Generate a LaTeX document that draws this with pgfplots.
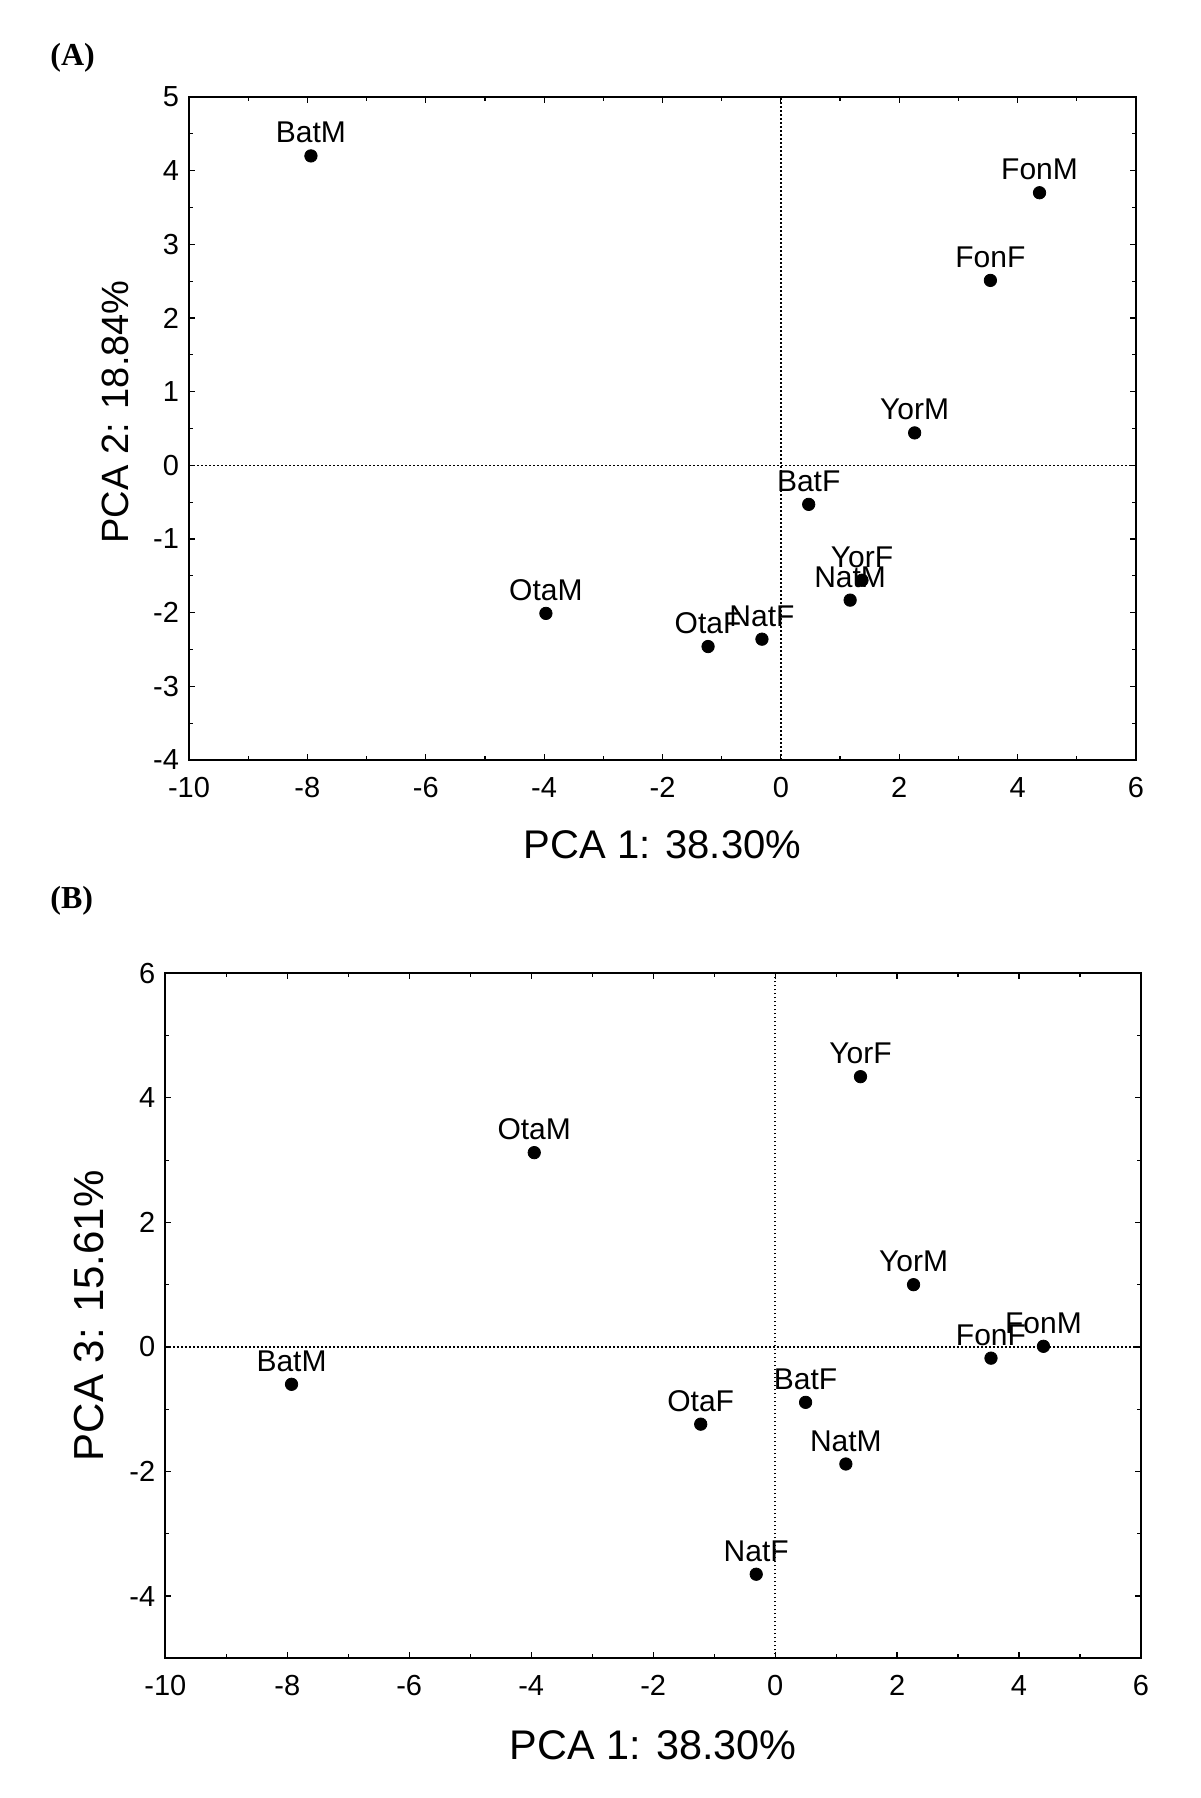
\documentclass[border=0pt]{standalone}
\usepackage{fontspec}
\setmainfont{Liberation Sans}
\newfontfamily\timesfont{Liberation Serif}
\usepackage{pgfplots}
\pgfplotsset{compat=1.18}

\pgfplotsset{
  pca/.style={
    scale only axis, anchor=south west, clip=false,
    axis line style={line width=1pt},
    tick style={black, line width=0.6pt},
    major tick length=3pt, minor tick length=2pt,
    tick align=inside,
    xmin=-10, xmax=6,
    xtick={-10,-8,...,6}, xticklabels={-10,-8,-6,-4,-2,0,2,4,6},
    minor x tick num=1,
    tick label style={font=\fontsize{14.5}{16}\selectfont},
    xticklabel style={yshift=-5pt},
    yticklabel style={xshift=-1.5pt},
  },
  pts/.style={only marks, mark=*, mark size=3.1pt, black,
    nodes near coords, point meta=explicit symbolic,
    every node near coord/.append style={anchor=base, yshift=6.5pt, inner sep=0pt,
      font=\fontsize{15}{17}\selectfont, text=black}},
  zero/.style={black, line width=0.8pt, dash pattern=on 0.8pt off 1.2pt},
}

\begin{document}
\begin{tikzpicture}
\useasboundingbox (0,0) rectangle (600pt,899pt);

\node[anchor=base west, inner sep=0pt] at (25pt,866pt) {\timesfont\bfseries\fontsize{16}{19}\selectfont (A)};
\node[anchor=base west, inner sep=0pt] at (25pt,444.5pt) {\timesfont\bfseries\fontsize{16}{19}\selectfont (B)};

% panel A: PCA 1 vs PCA 2
\begin{axis}[pca,
  at={(94.5pt,519pt)}, width=473.5pt, height=331.5pt,
  ymin=-4, ymax=5,
  ytick={-4,...,5}, yticklabels={-4,-3,-2,-1,0,1,2,3,4,5},
  minor y tick num=1,
  xlabel={PCA 1: 38.30\%},
  xlabel style={at={(axis description cs:0.5,0)}, anchor=base, yshift=-49.5pt,
    font=\fontsize{20}{24}\selectfont},
  ylabel={PCA 2: 18.84\%},
  ylabel style={at={(axis description cs:-0.0644,0.525)}, anchor=base,
    font=\fontsize{19}{23}\selectfont},
]
\addplot[zero] coordinates {(0,-4) (0,5)};
\addplot[zero] coordinates {(-10,0) (6,0)};
\addplot[pts] table[meta=lab] {
x y lab
-7.94 4.20 BatM
4.37 3.70 FonM
3.54 2.51 FonF
2.26 0.44 YorM
0.47 -0.53 BatF
1.37 -1.56 YorF
1.17 -1.83 NatM
-3.97 -2.01 OtaM
-1.23 -2.46 OtaF
-0.32 -2.36 NatF
};
\end{axis}

% panel B: PCA 1 vs PCA 3
\begin{axis}[pca,
  at={(82.65pt,69.85pt)}, width=487.85pt, height=342.5pt,
  ymin=-5, ymax=6,
  ytick={-4,-2,...,6}, yticklabels={-4,-2,0,2,4,6},
  minor y tick num=1,
  xlabel={PCA 1: 38.30\%},
  xlabel style={at={(axis description cs:0.5,0)}, anchor=base, yshift=-50.5pt,
    font=\fontsize{20.7}{24}\selectfont},
  ylabel={PCA 3: 15.61\%},
  ylabel style={at={(axis description cs:-0.0635,0.5)}, anchor=base,
    font=\fontsize{21}{25}\selectfont},
]
\addplot[zero] coordinates {(0,-5) (0,6)};
\addplot[zero] coordinates {(-10,0) (6,0)};
\addplot[pts] table[meta=lab] {
x y lab
-7.93 -0.60 BatM
-3.95 3.12 OtaM
1.40 4.34 YorF
2.27 1.00 YorM
3.54 -0.18 FonF
4.40 0.01 FonM
0.50 -0.89 BatF
-1.22 -1.24 OtaF
1.16 -1.88 NatM
-0.31 -3.65 NatF
};
\end{axis}
\end{tikzpicture}
\end{document}
